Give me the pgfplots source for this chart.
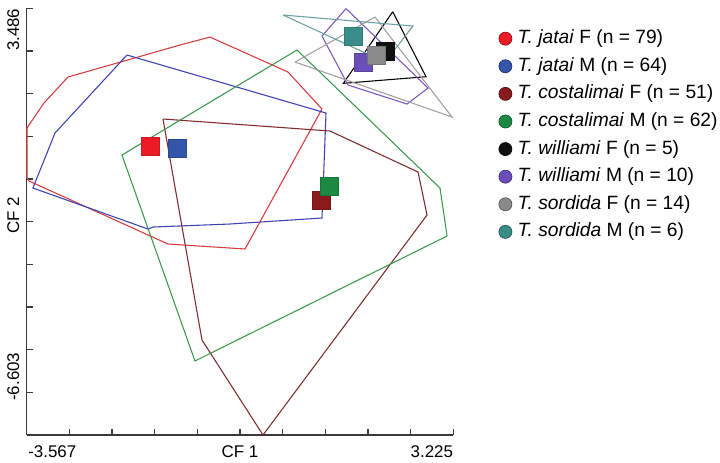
\documentclass[border=0pt]{standalone}
\usepackage{fontspec}
\setmainfont{Liberation Sans}
\usepackage{pgfplots}
\pgfplotsset{compat=1.18}

% colours
\definecolor{axisgray}{HTML}{3A3A3A}
\definecolor{lred}{HTML}{D63A3C}
\definecolor{lblue}{HTML}{3C40B0}
\definecolor{lgreen}{HTML}{3A9A4A}
\definecolor{ldred}{HTML}{7D2B2B}
\definecolor{lpurple}{HTML}{7A55C0}
\definecolor{lgray}{HTML}{A0A0A0}
\definecolor{lteal}{HTML}{6AA0A0}
\definecolor{mred}{HTML}{EC1C26}
\definecolor{mblue}{HTML}{3456AA}
\definecolor{mdred}{HTML}{8B1A1C}
\definecolor{mgreen}{HTML}{1C8A42}
\definecolor{mblack}{HTML}{101010}
\definecolor{mpurple}{HTML}{6B4FB8}
\definecolor{mgray}{HTML}{8A8A8A}
\definecolor{mteal}{HTML}{3A8E8A}

\newcommand\lbl{\fontsize{12.7}{15}\selectfont}
\pgfplotsset{
  hull/.style={draw=#1, line width=0.8pt, forget plot},
  ctr/.style={only marks, mark=square*, mark size=6.75pt,
    mark options={fill=#1, draw=#1!85!black, line width=0.4pt}, forget plot},
  lcirc/.style={legend image code/.code={
    \draw[fill=#1, draw=#1!60!black, line width=0.5pt] (4.9pt,0pt) circle[radius=4.9pt];}},
}

\begin{document}
\begin{tikzpicture}
\useasboundingbox (-20pt,-21pt) rectangle (520pt,326.25pt);
\begin{axis}[
  at={(0,0)}, anchor=south west,
  width=320pt, height=320pt, scale only axis,
  xmin=-3.567, xmax=3.225, ymin=-6.603, ymax=3.486,
  axis x line*=bottom, axis y line*=left,
  axis line style={line width=1pt, color=axisgray},
  xtick={-3.567,-2.8878,-2.2086,-1.5294,-0.8502,-0.171,0.5082,1.1874,1.8666,2.5458,3.225},
  ytick={-6.603,-5.5941,-4.5852,-3.5763,-2.5674,-1.5585,-0.5496,0.4593,1.4682,2.4771,3.486},
  xticklabels={,,}, yticklabels={,,},
  tick align=inside, major tick length=4.5pt,
  tick style={line width=0.9pt, color=axisgray},
  clip=false,
  legend cell align=left,
  legend style={at={(1,1)}, anchor=north west, xshift=33.9pt, yshift=-16pt,
    draw=none, fill=none, inner sep=0pt, outer sep=0pt,
    font=\fontsize{14.4}{16}\selectfont, row sep=7.2pt,
    nodes={inner sep=0pt, text height=10.5pt, text depth=3pt},
    /tikz/every odd column/.append style={column sep=4.1pt}},
]
% legend entries
\addlegendimage{lcirc=mred}\addlegendentry{\textit{T. jatai} F (n = 79)}
\addlegendimage{lcirc=mblue}\addlegendentry{\textit{T. jatai} M (n = 64)}
\addlegendimage{lcirc=mdred}\addlegendentry{\textit{T. costalimai} F (n = 51)}
\addlegendimage{lcirc=mgreen}\addlegendentry{\textit{T. costalimai} M (n = 62)}
\addlegendimage{lcirc=mblack}\addlegendentry{\textit{T. williami} F (n = 5)}
\addlegendimage{lcirc=mpurple}\addlegendentry{\textit{T. williami} M (n = 10)}
\addlegendimage{lcirc=mgray}\addlegendentry{\textit{T. sordida} F (n = 14)}
\addlegendimage{lcirc=mteal}\addlegendentry{\textit{T. sordida} M (n = 6)}

% convex hulls
\addplot[hull=lred] coordinates {
  (-3.562,0.656) (-3.562,-0.526) (-3.530,-0.597) (-1.317,-2.087) (-0.091,-2.205)
  (1.134,1.105) (0.593,1.980) (-0.649,2.807) (-1.126,2.618) (-2.909,1.862)
  (-3.292,1.247) (-3.562,0.656)};
\addplot[hull=lblue] coordinates {
  (-1.970,2.382) (-3.116,0.538) (-3.467,-0.763) (-1.636,-1.732) (-1.556,-1.685)
  (-0.330,-1.614) (1.134,-1.472) (1.198,1.010) (-1.970,2.382)};
\addplot[hull=ldred] coordinates {
  (-1.397,0.869) (1.262,0.585) (2.663,-0.385) (2.806,-1.401) (0.195,-6.603)
  (-0.776,-4.357) (-1.397,0.869)};
\addplot[hull=lgreen] coordinates {
  (0.736,2.500) (-2.050,0.017) (-0.888,-4.853) (3.125,-1.898) (3.013,-0.763)
  (0.736,2.500)};
\addplot[hull=black] coordinates {
  (2.260,3.406) (2.790,1.869) (1.474,1.713) (2.260,3.406)};
\addplot[hull=lpurple] coordinates {
  (1.517,3.480) (1.134,2.831) (1.548,1.673) (2.488,1.223) (2.822,1.602) (1.517,3.480)};
\addplot[hull=lgray] coordinates {
  (0.705,2.216) (1.978,3.280) (3.204,0.916) (0.705,2.216)};
\addplot[hull=lteal] coordinates {
  (0.514,3.328) (2.583,3.067) (2.137,2.216) (0.514,3.328)};

% group centroids
\addplot[ctr=mred] coordinates {(-1.604,0.230)};
\addplot[ctr=mblue] coordinates {(-1.174,0.183)};
\addplot[ctr=mdred] coordinates {(1.119,-1.058)};
\addplot[ctr=mgreen] coordinates {(1.246,-0.716)};
\addplot[ctr=mblack] coordinates {(2.137,2.476)};
\addplot[ctr=mpurple] coordinates {(1.792,2.204)};
\addplot[ctr=mgray] coordinates {(1.994,2.375)};
\addplot[ctr=mteal] coordinates {(1.633,2.815)};
\end{axis}

% axis labels
\node[font=\lbl, inner sep=0pt, anchor=west] at (1pt,-12.5pt) {-3.567};
\node[font=\lbl, inner sep=0pt, anchor=east] at (320pt,-12.5pt) {3.225};
\node[font=\lbl, inner sep=0pt] at (160pt,-12.5pt) {CF 1};
\node[font=\lbl, inner sep=0pt, rotate=90, anchor=east] at (-10pt,320pt) {3.486};
\node[font=\lbl, inner sep=0pt, rotate=90] at (-10pt,43.7pt) {-6.603};
\node[font=\lbl, inner sep=0pt, rotate=90] at (-10pt,165pt) {CF 2};
\end{tikzpicture}
\end{document}
